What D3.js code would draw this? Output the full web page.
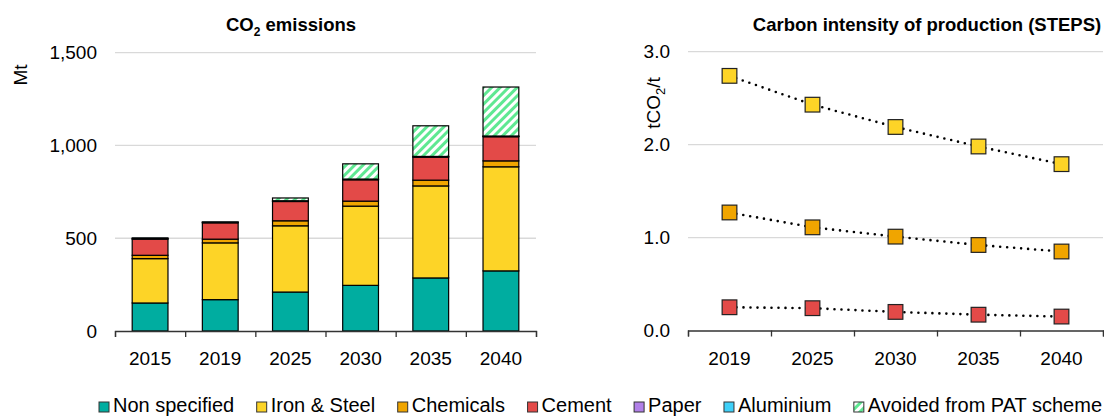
<!DOCTYPE html>
<html>
<head>
<meta charset="utf-8">
<script src="https://cdn.jsdelivr.net/npm/d3@7"></script>
<style>
  html, body { margin: 0; padding: 0; background: #fff; }
  svg { display: block; font-family: "Liberation Sans", Arial, sans-serif; }
</style>
</head>
<body>
<svg id="chart" width="1104" height="416"></svg>
<script>
// ---- Data: CO2 emissions (Mt) ----
const years = ["2015", "2019", "2025", "2030", "2035", "2040"];
const nonSpecified = [151, 169, 210, 246, 286, 324];
const ironSteel    = [239, 306, 357, 427, 496, 561];
const chemicals    = [18, 20, 27, 27, 31, 32];
const cement       = [87, 88, 104, 115, 124, 130];
const paper        = [3, 3, 2, 2, 2, 2];
const aluminium    = [4, 2, 2, 2, 2, 2];
const avoidedPAT   = [0, 0, 15, 82, 165, 264];
const emissionTicks = [0, 500, 1000, 1500];

// ---- Data: carbon intensity (tCO2/t) ----
const intensityYears = ["2019", "2025", "2030", "2035", "2040"];
const steelIntensity    = [2.74, 2.43, 2.19, 1.98, 1.79];
const chemicalIntensity = [1.27, 1.11, 1.01, 0.92, 0.85];
const cementIntensity   = [0.25, 0.24, 0.20, 0.17, 0.15];
const intensityTicks = [0, 1, 2, 3];

const seriesNames = ["Non specified", "Iron & Steel", "Chemicals", "Cement", "Paper", "Aluminium", "Avoided from PAT scheme"];
const seriesValues = [nonSpecified, ironSteel, chemicals, cement, paper, aluminium, avoidedPAT];
const colors = ["#00ADA0", "#FDD427", "#F0A500", "#E34A48", "#B180E8", "#3FD0F8", "url(#hatch)"];

const svg = d3.select("#chart");
const FONT = 19;
const TITLE = 18.5;
const FF = "Liberation Sans, Arial, sans-serif";

// hatch pattern
const defs = svg.append("defs");
const pat = defs.append("pattern").attr("id", "hatch").attr("patternUnits", "userSpaceOnUse")
  .attr("width", 6).attr("height", 6).attr("patternTransform", "rotate(45)");
pat.append("rect").attr("width", 6).attr("height", 6).attr("fill", "#fff");
pat.append("rect").attr("width", 3).attr("height", 6).attr("fill", "#5FE892");

// ================= LEFT CHART =================
const L = { left: 115, right: 536, top: 52.7, bottom: 331 };
const table = years.map((yr, i) => {
  const o = { year: yr };
  seriesNames.forEach((s, j) => o[s] = seriesValues[j][i]);
  return o;
});
const stacked = d3.stack().keys(seriesNames)(table);

const xL = d3.scaleBand().domain(years).range([L.left, L.right]).paddingInner(0.49).paddingOuter(0.245);
const yL = d3.scaleLinear().domain([0, 1500]).range([L.bottom, L.top]);

const gL = svg.append("g");
gL.append("g").selectAll("line").data(emissionTicks.filter(d => d > 0)).join("line")
  .attr("x1", L.left).attr("x2", L.right)
  .attr("y1", d => yL(d)).attr("y2", d => yL(d))
  .attr("stroke", "#D9D9D9").attr("stroke-width", 1.3);

gL.append("g").attr("transform", `translate(${L.left - 18},0)`)
  .call(d3.axisLeft(yL).tickValues(emissionTicks).tickSize(0).tickPadding(0).tickFormat(d3.format(",")))
  .call(g => g.select(".domain").remove())
  .selectAll("text").attr("font-size", FONT).attr("fill", "#000").attr("font-family", FF);

gL.append("g").selectAll("g").data(stacked).join("g")
  .attr("fill", (d, i) => colors[i])
  .selectAll("rect").data(d => d.filter(p => p[1] - p[0] > 0)).join("rect")
  .attr("x", d => xL(d.data.year))
  .attr("width", xL.bandwidth())
  .attr("y", d => yL(d[1]))
  .attr("height", d => yL(d[0]) - yL(d[1]))
  .attr("stroke", "#000").attr("stroke-width", 1.2);

const xEdges = d3.scaleLinear().domain([0, years.length]).range([L.left, L.right]);
gL.append("g").attr("transform", `translate(0,${L.bottom})`)
  .call(d3.axisBottom(xEdges).ticks(years.length).tickFormat("").tickSize(6).tickSizeOuter(6))
  .call(g => g.selectAll("line, path").attr("stroke", "#333").attr("stroke-width", 1.3));
gL.append("g").attr("transform", `translate(0,${L.bottom})`)
  .call(d3.axisBottom(xL).tickSize(0).tickPadding(21))
  .call(g => g.select(".domain").remove())
  .selectAll("text").attr("font-size", FONT).attr("fill", "#000").attr("font-family", FF);

svg.append("text").attr("transform", "translate(27,75) rotate(-90)")
  .attr("text-anchor", "middle").attr("font-size", FONT).text("Mt");

const t1 = svg.append("text").attr("x", 291).attr("y", 31).attr("text-anchor", "middle")
  .attr("font-size", TITLE).attr("font-weight", "bold");
t1.append("tspan").text("CO");
t1.append("tspan").attr("font-size", 12).attr("dy", 5).text("2");
t1.append("tspan").attr("dy", -5).text(" emissions");

// ================= RIGHT CHART =================
const R = { left: 688, right: 1103, top: 51.7, bottom: 330.5 };
const xR = d3.scaleBand().domain(intensityYears).range([R.left, R.right]);
const yR = d3.scaleLinear().domain([0, 3]).range([R.bottom, R.top]);
const gR = svg.append("g");

gR.append("g").selectAll("line").data(intensityTicks.filter(d => d > 0)).join("line")
  .attr("x1", R.left).attr("x2", R.right)
  .attr("y1", d => yR(d)).attr("y2", d => yR(d))
  .attr("stroke", "#D9D9D9").attr("stroke-width", 1.3);

gR.append("g").attr("transform", `translate(${R.left - 18},0)`)
  .call(d3.axisLeft(yR).tickValues(intensityTicks).tickSize(0).tickPadding(0).tickFormat(d3.format(".1f")))
  .call(g => g.select(".domain").remove())
  .selectAll("text").attr("font-size", FONT).attr("fill", "#000").attr("font-family", FF);

const xEdgesR = d3.scaleLinear().domain([0, intensityYears.length]).range([R.left, R.right]);
gR.append("g").attr("transform", `translate(0,${R.bottom})`)
  .call(d3.axisBottom(xEdgesR).ticks(intensityYears.length).tickFormat("").tickSize(6).tickSizeOuter(6))
  .call(g => g.selectAll("line, path").attr("stroke", "#333").attr("stroke-width", 1.3));
gR.append("g").attr("transform", `translate(0,${R.bottom})`)
  .call(d3.axisBottom(xR).tickSize(0).tickPadding(21))
  .call(g => g.select(".domain").remove())
  .selectAll("text").attr("font-size", FONT).attr("fill", "#000").attr("font-family", FF);

const lineSeries = [
  { vals: steelIntensity, color: colors[1] },
  { vals: chemicalIntensity, color: colors[2] },
  { vals: cementIntensity, color: colors[3] }
];
const line = d3.line().x((d, i) => xR(intensityYears[i]) + xR.bandwidth() / 2).y(d => yR(d));
lineSeries.forEach(s => {
  gR.append("path").datum(s.vals).attr("d", line)
    .attr("fill", "none").attr("stroke", "#000").attr("stroke-width", 2.6)
    .attr("stroke-linecap", "round").attr("stroke-dasharray", "0,7");
});
const M = 14.7;
lineSeries.forEach(s => {
  gR.append("g").selectAll("rect").data(s.vals).join("rect")
    .attr("x", (d, i) => xR(intensityYears[i]) + xR.bandwidth() / 2 - M / 2)
    .attr("y", d => yR(d) - M / 2)
    .attr("width", M).attr("height", M)
    .attr("fill", s.color).attr("stroke", "#222").attr("stroke-width", 1.2);
});

const at = svg.append("text").attr("transform", "translate(660,103) rotate(-90)")
  .attr("text-anchor", "middle").attr("font-size", FONT);
at.append("tspan").text("tCO");
at.append("tspan").attr("font-size", 13).attr("dy", 5).text("2");
at.append("tspan").attr("dy", -5).text("/t");

svg.append("text").attr("x", 927).attr("y", 31).attr("text-anchor", "middle")
  .attr("font-size", TITLE).attr("font-weight", "bold").text("Carbon intensity of production (STEPS)");

// ================= LEGEND =================
const legend = svg.append("g");
let lx = 99;
seriesNames.forEach((name, i) => {
  const g = legend.append("g").attr("transform", `translate(${lx},0)`);
  g.append("rect").attr("x", 0).attr("y", 402).attr("width", 10).attr("height", 10)
    .attr("fill", colors[i]).attr("stroke", "#333").attr("stroke-width", 1);
  const t = g.append("text").attr("x", 14).attr("y", 412).attr("font-size", 20).text(name);
  lx += 14 + t.node().getComputedTextLength() + 22.5;
});
</script>
</body>
</html>
